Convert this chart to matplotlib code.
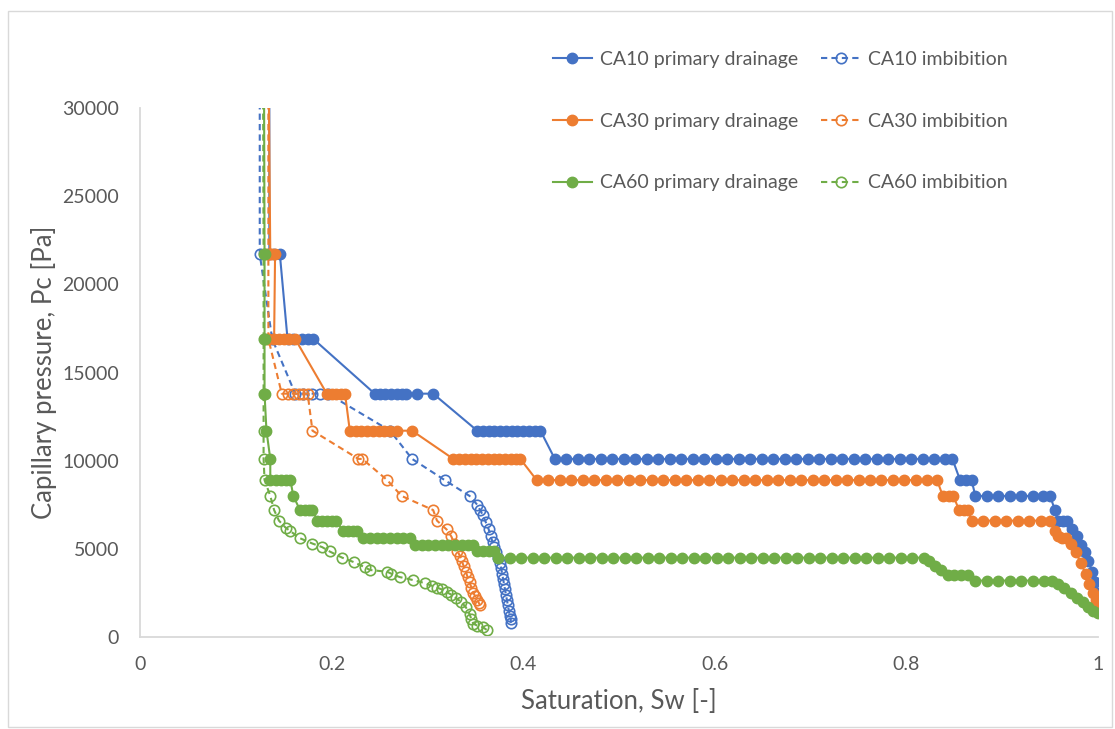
import matplotlib
matplotlib.use("Agg")
import matplotlib.pyplot as plt
from matplotlib.patches import Rectangle

plt.rcParams['font.family'] = ['Lato', 'DejaVu Sans']

# --- data ---
# CA10 primary drainage
ca10_dr_sw = [0.135, 0.135, 0.140, 0.146, 0.154, 0.160, 0.169, 0.175, 0.181,
              0.245, 0.250, 0.256, 0.262, 0.268, 0.273, 0.278, 0.289, 0.306,
              0.352, 0.358, 0.364, 0.370, 0.376, 0.382, 0.388, 0.394, 0.400, 0.406, 0.412, 0.418,
              0.433, 0.445, 0.457, 0.469, 0.481, 0.493, 0.505, 0.517, 0.529, 0.541, 0.553, 0.565,
              0.577, 0.589, 0.601, 0.613, 0.625, 0.637, 0.649, 0.661, 0.673, 0.685, 0.697, 0.709,
              0.721, 0.733, 0.745, 0.757, 0.769, 0.781, 0.793, 0.805, 0.817, 0.829, 0.840, 0.848,
              0.856, 0.862, 0.868,
              0.872, 0.884, 0.896, 0.908, 0.920, 0.932, 0.943, 0.950,
              0.955, 0.958, 0.963, 0.968,
              0.973, 0.978, 0.982, 0.986, 0.990, 0.994, 0.997, 1.000]
ca10_dr_pc = [40000, 21700, 21700, 21700, 16900, 16900, 16900, 16900, 16900,
              13800, 13800, 13800, 13800, 13800, 13800, 13800, 13800, 13800,
              11700, 11700, 11700, 11700, 11700, 11700, 11700, 11700, 11700, 11700, 11700, 11700,
              10100, 10100, 10100, 10100, 10100, 10100, 10100, 10100, 10100, 10100, 10100, 10100,
              10100, 10100, 10100, 10100, 10100, 10100, 10100, 10100, 10100, 10100, 10100, 10100,
              10100, 10100, 10100, 10100, 10100, 10100, 10100, 10100, 10100, 10100, 10100, 10100,
              8900, 8900, 8900,
              8000, 8000, 8000, 8000, 8000, 8000, 8000, 8000,
              7200, 6600, 6600, 6600,
              6100, 5700, 5200, 4800, 4300, 3700, 3100, 2500]

# CA10 imbibition
ca10_im_sw = [0.125, 0.125, 0.138, 0.162, 0.170, 0.180, 0.188, 0.196,
              0.261, 0.284, 0.318, 0.344, 0.352, 0.355, 0.358, 0.361, 0.364, 0.366,
              0.368, 0.370, 0.372, 0.374, 0.376, 0.377, 0.378, 0.379, 0.380, 0.381,
              0.382, 0.383, 0.384, 0.385, 0.386, 0.387, 0.387]
ca10_im_pc = [40000, 21700, 16900, 13800, 13800, 13800, 13800, 13800,
              11700, 10100, 8900, 8000, 7500, 7200, 6900, 6500, 6100, 5700,
              5400, 5100, 4800, 4500, 4200, 3900, 3600, 3300, 3000, 2700,
              2400, 2100, 1800, 1500, 1200, 1000, 800]

# CA30 primary drainage
ca30_dr_sw = [0.133, 0.136, 0.138, 0.141, 0.140, 0.145, 0.150, 0.156, 0.162,
              0.195, 0.200, 0.205, 0.210, 0.214,
              0.219, 0.225, 0.231, 0.237, 0.243, 0.249, 0.255, 0.261, 0.268, 0.284,
              0.327, 0.333, 0.339, 0.345, 0.351, 0.357, 0.363, 0.369, 0.375, 0.381, 0.387, 0.392, 0.397,
              0.414, 0.426, 0.438, 0.450, 0.462, 0.474, 0.486, 0.498, 0.510, 0.522, 0.534, 0.546,
              0.558, 0.570, 0.582, 0.594, 0.606, 0.618, 0.630, 0.642, 0.654, 0.666, 0.678, 0.690,
              0.702, 0.714, 0.726, 0.738, 0.750, 0.762, 0.774, 0.786, 0.798, 0.810, 0.822, 0.832,
              0.838, 0.844, 0.849,
              0.855, 0.860, 0.864,
              0.868, 0.880, 0.892, 0.904, 0.916, 0.928, 0.940, 0.950,
              0.955, 0.958, 0.962, 0.967, 0.972, 0.977, 0.982, 0.987, 0.991, 0.995, 0.998, 1.000]
ca30_dr_pc = [40000, 21700, 21700, 21700, 16900, 16900, 16900, 16900, 16900,
              13800, 13800, 13800, 13800, 13800,
              11700, 11700, 11700, 11700, 11700, 11700, 11700, 11700, 11700, 11700,
              10100, 10100, 10100, 10100, 10100, 10100, 10100, 10100, 10100, 10100, 10100, 10100, 10100,
              8900, 8900, 8900, 8900, 8900, 8900, 8900, 8900, 8900, 8900, 8900, 8900,
              8900, 8900, 8900, 8900, 8900, 8900, 8900, 8900, 8900, 8900, 8900, 8900,
              8900, 8900, 8900, 8900, 8900, 8900, 8900, 8900, 8900, 8900, 8900, 8900,
              8000, 8000, 8000,
              7200, 7200, 7200,
              6600, 6600, 6600, 6600, 6600, 6600, 6600, 6600,
              6000, 5700, 5600, 5600, 5300, 4800, 4200, 3600, 3000, 2500, 2100, 1900]

# CA30 imbibition
ca30_im_sw = [0.134, 0.134, 0.134, 0.148, 0.154, 0.160, 0.166, 0.170, 0.175,
              0.180, 0.228, 0.232, 0.258, 0.273, 0.306, 0.310, 0.320, 0.325,
              0.328, 0.331, 0.334, 0.336, 0.338, 0.340, 0.342, 0.344, 0.346,
              0.348, 0.350, 0.352, 0.354, 0.355]
ca30_im_pc = [40000, 21700, 16900, 13800, 13800, 13800, 13800, 13800, 13800,
              11700, 10100, 10100, 8900, 8000, 7200, 6600, 6100, 5700,
              5300, 4900, 4600, 4300, 4000, 3700, 3400, 3100, 2800,
              2500, 2300, 2100, 1900, 1800]

# CA60 primary drainage
ca60_dr_sw = [0.129, 0.130, 0.130, 0.130, 0.132, 0.136,
              0.136, 0.142, 0.147, 0.152, 0.157, 0.160,
              0.167, 0.172, 0.176, 0.180,
              0.185, 0.190, 0.195, 0.200, 0.205,
              0.212, 0.217, 0.222, 0.226,
              0.233, 0.240, 0.247, 0.254, 0.261, 0.268, 0.275, 0.282,
              0.287, 0.294, 0.301, 0.308, 0.315, 0.322, 0.329, 0.336, 0.342, 0.348,
              0.352, 0.358, 0.364, 0.369,
              0.374, 0.386, 0.398, 0.410, 0.422, 0.434, 0.446, 0.458, 0.470, 0.482, 0.494, 0.506,
              0.518, 0.530, 0.542, 0.554, 0.566, 0.578, 0.590, 0.602, 0.614, 0.626, 0.638, 0.650,
              0.662, 0.674, 0.686, 0.698, 0.710, 0.722, 0.734, 0.746, 0.758, 0.770, 0.782, 0.794,
              0.806, 0.818,
              0.824, 0.830, 0.836, 0.843, 0.850, 0.857, 0.864,
              0.872, 0.884, 0.896, 0.908, 0.920, 0.932, 0.944, 0.952,
              0.958, 0.965, 0.972, 0.978, 0.984, 0.990, 0.995, 1.000]
ca60_dr_pc = [40000, 21700, 16900, 13800, 11700, 10100,
              8900, 8900, 8900, 8900, 8900, 8000,
              7200, 7200, 7200, 7200,
              6600, 6600, 6600, 6600, 6600,
              6000, 6000, 6000, 6000,
              5600, 5600, 5600, 5600, 5600, 5600, 5600, 5600,
              5200, 5200, 5200, 5200, 5200, 5200, 5200, 5200, 5200, 5200,
              4850, 4850, 4850, 4850,
              4500, 4500, 4500, 4500, 4500, 4500, 4500, 4500, 4500, 4500, 4500, 4500,
              4500, 4500, 4500, 4500, 4500, 4500, 4500, 4500, 4500, 4500, 4500, 4500,
              4500, 4500, 4500, 4500, 4500, 4500, 4500, 4500, 4500, 4500, 4500, 4500,
              4500, 4500,
              4300, 4000, 3800, 3500, 3500, 3500, 3500,
              3200, 3200, 3200, 3200, 3200, 3200, 3200, 3200,
              3000, 2800, 2500, 2200, 2000, 1700, 1500, 1350]

# CA60 imbibition
ca60_im_sw = [0.128, 0.129, 0.129, 0.129, 0.129, 0.129, 0.130, 0.136, 0.140, 0.145,
              0.152, 0.157, 0.167, 0.180, 0.190, 0.198, 0.211, 0.223, 0.235, 0.240,
              0.258, 0.262, 0.271, 0.285, 0.297, 0.305, 0.310, 0.315, 0.320, 0.325,
              0.330, 0.335, 0.340, 0.344, 0.346, 0.348, 0.352, 0.358, 0.362]
ca60_im_pc = [40000, 21700, 16900, 13800, 11700, 10100, 8900, 8000, 7200, 6600,
              6200, 6000, 5600, 5300, 5100, 4850, 4500, 4250, 3950, 3800,
              3700, 3600, 3400, 3230, 3060, 2900, 2800, 2700, 2550, 2400,
              2200, 2000, 1700, 1300, 1000, 750, 650, 550, 400]

x_ticks = [0, 0.2, 0.4, 0.6, 0.8, 1.0]
x_tick_labels = ['0', '0.2', '0.4', '0.6', '0.8', '1']
y_ticks = [0, 5000, 10000, 15000, 20000, 25000, 30000]

blue, orange, green = '#4472C4', '#ED7D31', '#70AD47'

fig = plt.figure(figsize=(11.15, 7.29), dpi=100)
ax = fig.add_axes([140 / 1115, 92 / 729, 958 / 1115, 529 / 729])

series = [
    (ca10_dr_sw, ca10_dr_pc, blue, False, 'CA10 primary drainage'),
    (ca10_im_sw, ca10_im_pc, blue, True, 'CA10 imbibition'),
    (ca30_dr_sw, ca30_dr_pc, orange, False, 'CA30 primary drainage'),
    (ca30_im_sw, ca30_im_pc, orange, True, 'CA30 imbibition'),
    (ca60_dr_sw, ca60_dr_pc, green, False, 'CA60 primary drainage'),
    (ca60_im_sw, ca60_im_pc, green, True, 'CA60 imbibition'),
]
handles = {}
for sw, pc, col, imb, name in series:
    if imb:
        h, = ax.plot(sw, pc, color=col, lw=1.5, ls=(0, (3, 2)), marker='o', ms=7.5,
                     mfc='none', mec=col, mew=1.2, label=name)
    else:
        h, = ax.plot(sw, pc, color=col, lw=1.5, marker='o', ms=7.5,
                     mfc=col, mec=col, label=name)
    handles[name] = h

ax.set_xlim(0, 1)
ax.set_ylim(0, 30000)
ax.set_xticks(x_ticks)
ax.set_xticklabels(x_tick_labels)
ax.set_yticks(y_ticks)
ax.tick_params(length=0, labelsize=14, colors='#595959')
ax.tick_params(axis='x', pad=14)
ax.tick_params(axis='y', pad=15)
for s in ['top', 'right']:
    ax.spines[s].set_visible(False)
for s in ['left', 'bottom']:
    ax.spines[s].set_color('#d9d9d9')
    ax.spines[s].set_linewidth(1.3)

ax.set_xlabel('Saturation, Sw [-]', fontsize=18.5, color='#595959')
ax.set_ylabel('Capillary pressure, Pc [Pa]', fontsize=18.5, color='#595959')
ax.xaxis.set_label_coords(0.5, -0.098)
ax.yaxis.set_label_coords(-0.087, 0.5)

order = ['CA10 primary drainage', 'CA30 primary drainage', 'CA60 primary drainage',
         'CA10 imbibition', 'CA30 imbibition', 'CA60 imbibition']
leg = fig.legend([handles[k] for k in order], order, ncol=2, frameon=False,
                 loc='upper left', bbox_to_anchor=(553 / 1115, 1 - 51 / 729),
                 fontsize=14, labelspacing=2.3, columnspacing=1.2,
                 handlelength=2.0, handletextpad=0.4, borderpad=0, borderaxespad=0)
for t in leg.get_texts():
    t.set_color('#595959')

fig.patches.append(Rectangle((8 / 1115, 2 / 729), 1104 / 1115, 716 / 729,
                             transform=fig.transFigure, fill=False,
                             edgecolor='#d9d9d9', lw=1))

fig.savefig('out.png', dpi=100)
